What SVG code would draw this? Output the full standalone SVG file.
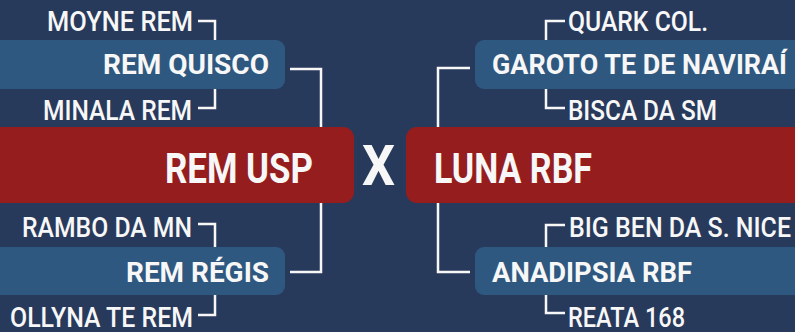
<svg xmlns="http://www.w3.org/2000/svg" width="795" height="332" viewBox="0 0 795 332">
<style>
.bg{fill:#283a5c}
.blue{fill:#2f5880}
.red{fill:#951d1e}
.lbl{font-family:Roboto,"Liberation Sans",sans-serif;font-size:28px;font-weight:500;fill:#f7f7f7}
.team{font-family:Roboto,"Liberation Sans",sans-serif;font-size:28px;font-weight:700;fill:#f7f7f7}
.main{font-family:Roboto,"Liberation Sans",sans-serif;font-size:42px;font-weight:700;fill:#f7f7f7}
.conn{fill:none;stroke:#f7f7f7;stroke-width:2.5}
</style>
<rect class="bg" x="0" y="0" width="795" height="332"/>
<g id="connectors">
<path class="conn" d="M198 21H215V40"/>
<path class="conn" d="M215 89V108H198"/>
<path class="conn" d="M290 69H321V272H290"/>
<path class="conn" d="M198 224H215V247"/>
<path class="conn" d="M215 295V315H198"/>
<path class="conn" d="M565 21H546V40"/>
<path class="conn" d="M546 89V108H565"/>
<path class="conn" d="M470 68H438V272H470"/>
<path class="conn" d="M565 225H546V247"/>
<path class="conn" d="M546 295V313H565"/>
</g>
<g id="rem-quisco"><rect class="blue" x="-20" y="40" width="305" height="49" rx="9"/><text class="team" x="103" y="74" textLength="166" lengthAdjust="spacingAndGlyphs">REM QUISCO</text></g>
<g id="rem-regis"><rect class="blue" x="-20" y="247" width="305" height="48" rx="9"/><text class="team" x="126" y="282" textLength="143" lengthAdjust="spacingAndGlyphs">REM RÉGIS</text></g>
<g id="rem-usp"><rect class="red" x="-20" y="127" width="374" height="76" rx="11"/><text class="main" x="165" y="183" textLength="148" lengthAdjust="spacingAndGlyphs">REM USP</text></g>
<g id="luna-rbf"><rect class="red" x="406" y="127" width="410" height="76" rx="11"/><text class="main" x="434" y="183" textLength="158" lengthAdjust="spacingAndGlyphs">LUNA RBF</text></g>
<g id="garoto"><rect class="blue" x="475" y="40" width="340" height="49" rx="9"/><text class="team" x="492" y="74" textLength="295" lengthAdjust="spacingAndGlyphs">GAROTO TE DE NAVIRAÍ</text></g>
<g id="anadipsia"><rect class="blue" x="475" y="247" width="340" height="48" rx="9"/><text class="team" x="492" y="282" textLength="200" lengthAdjust="spacingAndGlyphs">ANADIPSIA RBF</text></g>
<g id="vs"><text class="main" x="362" y="185" textLength="33" lengthAdjust="spacingAndGlyphs" style="font-size:56px">X</text></g>
<g id="moyne-rem"><text class="lbl" x="47" y="31" textLength="146" lengthAdjust="spacingAndGlyphs">MOYNE REM</text></g>
<g id="minala-rem"><text class="lbl" x="43" y="120" textLength="149" lengthAdjust="spacingAndGlyphs">MINALA REM</text></g>
<g id="rambo"><text class="lbl" x="22" y="237" textLength="170" lengthAdjust="spacingAndGlyphs">RAMBO DA MN</text></g>
<g id="ollyna"><text class="lbl" x="10" y="327" textLength="183" lengthAdjust="spacingAndGlyphs">OLLYNA TE REM</text></g>
<g id="quark"><text class="lbl" x="568" y="31" textLength="140" lengthAdjust="spacingAndGlyphs">QUARK COL.</text></g>
<g id="bisca"><text class="lbl" x="568" y="120" textLength="149" lengthAdjust="spacingAndGlyphs">BISCA DA SM</text></g>
<g id="big-ben"><text class="lbl" x="569" y="237" textLength="222" lengthAdjust="spacingAndGlyphs">BIG BEN DA S. NICE</text></g>
<g id="reata"><text class="lbl" x="568" y="327" textLength="117" lengthAdjust="spacingAndGlyphs">REATA 168</text></g>
</svg>
